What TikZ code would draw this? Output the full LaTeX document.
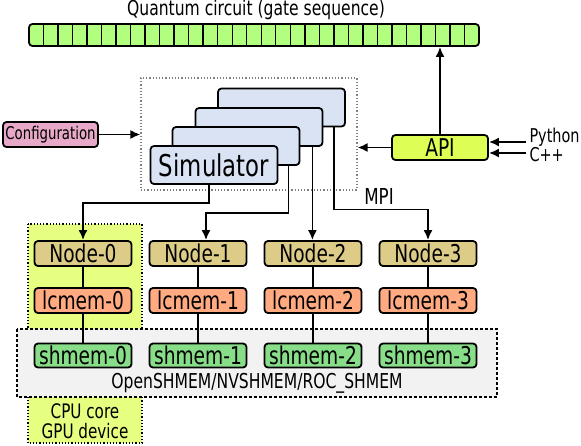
\documentclass[tikz,border=0pt]{standalone}
\usepackage{fontspec}
\setmainfont{DejaVu Sans}[FakeStretch=0.76]
\usetikzlibrary{arrows.meta, positioning}

\newcommand\fsz[1]{\fontsize{#1}{#1}\selectfont}

\begin{document}
\begin{tikzpicture}[x=1pt, y=-1pt,
    box/.style={draw, line width=1.8pt, rounded corners=3.5pt, minimum width=97pt,
        minimum height=25pt, inner sep=0pt, font=\fsz{24.5}},
    nodebox/.style={box, fill=nodeColour},
    lcbox/.style={box, fill=lcmemColour},
    shbox/.style={box, fill=shmemColour, minimum height=24pt},
    simcard/.style={box, fill=simColour, minimum width=127pt, minimum height=38pt},
    link/.style={line width=1.8pt},
    arrow/.style={link, -{Latex[length=10pt, width=9pt]}}]
    % Picture size
    \useasboundingbox (0,0) rectangle (581,445);

    \definecolor{gateColour}{HTML}{B2FF80}
    \definecolor{simColour}{HTML}{D9E3F4}
    \definecolor{configColour}{HTML}{E8A8C8}
    \definecolor{apiColour}{HTML}{DDFF55}
    \definecolor{cpuColour}{HTML}{E6FF80}
    \definecolor{nodeColour}{HTML}{DDCC88}
    \definecolor{lcmemColour}{HTML}{FFAA80}
    \definecolor{shmemColour}{HTML}{88DD88}
    \definecolor{groupColour}{HTML}{F2F2F2}

    % Background groups
    \draw[fill=cpuColour, dotted, line width=1.2pt] (28,224) rectangle (142,443);
    \node[font=\fontsize{20}{20}\selectfont, align=center] (cpulabel) at (85,421) {CPU core\\GPU device};
    \draw[fill=groupColour, dash pattern=on 3pt off 2pt, line width=1.2pt] (17,329) rectangle (497,397);
    \node[font=\fsz{20.5}] (shmemlabel) at (257,383) {OpenSHMEM/NVSHMEM/ROC\_SHMEM};

    % Gate sequence
    \node[font=\fsz{20.5}] (title) at (256,10) {Quantum circuit (gate sequence)};
    \node[box, fill=gateColour, minimum width=450pt, minimum height=22pt] (circuit) at (254,35) {};
    \foreach \i in {1,...,30}
        \draw[line width=1.4pt] ({29+\i*450/31},24) -- ({29+\i*450/31},46);

    % Simulator stack
    \node[draw=gray, dotted, line width=1.2pt, minimum width=216pt, minimum height=112pt] (simgroup) at (249,134) {};
    \node[simcard] (sim3) at (281.5,107.5) {};
    \node[simcard] (sim2) at (259,127) {};
    \node[simcard] (sim1) at (236,146) {};
    \node[simcard, font=\fsz{30}] (sim0) at (214,165) {Simulator};

    % Inputs
    \node[box, fill=configColour, minimum width=95pt, font=\fsz{17.5}] (config) at (50.5,134.5) {Configuration};
    \node[box, fill=apiColour, minimum width=96pt] (api) at (440,147.5) {API};
    \node[font=\fsz{19}, anchor=west] (python) at (526,137) {Python};
    \node[font=\fsz{19}, anchor=west] (cpp) at (526,155) {C++};

    \draw[arrow] (config.east) -- (config.east -| simgroup.west);
    \draw[arrow] (api.west) -- (api.west -| simgroup.east);
    \draw[arrow] (api.north) -- (api.north |- circuit.south);
    \draw[arrow] ([yshift=-5pt]python.west) -- ([yshift=-5pt]python.west -| api.east);
    \draw[arrow] ([yshift=2pt]cpp.west) -- ([yshift=2pt]cpp.west -| api.east);

    % Nodes and memories
    \foreach \i in {0,...,3} {
        \node[nodebox] (node\i) at ({83+115*\i},253.5) {Node-\i};
        \node[lcbox] (lcmem\i) at ({83+115*\i},300.5) {lcmem-\i};
        \node[shbox] (shmem\i) at ({83+115*\i},355.5) {shmem-\i};
        \draw[link] (node\i) -- (lcmem\i);
        \draw[link] (lcmem\i) -- (shmem\i);
    }

    % MPI links from the simulators
    \draw[arrow] ([xshift=-5pt]sim0.south) -- ++(0,18) -| (node0.north);
    \draw[arrow] ([xshift=-12pt]sim1.south east) -- ++(0,47) -| ([xshift=8pt]node1.north);
    \draw[arrow] ([xshift=-11pt]sim2.south east) -- ([xshift=-11pt]sim2.south east |- node2.north);
    \draw[arrow] ([xshift=-12pt]sim3.south east) -- ++(0,82) -| (node3.north);
    \node[font=\fsz{22}] (mpi) at (379,196) {MPI};

\end{tikzpicture}
\end{document}
